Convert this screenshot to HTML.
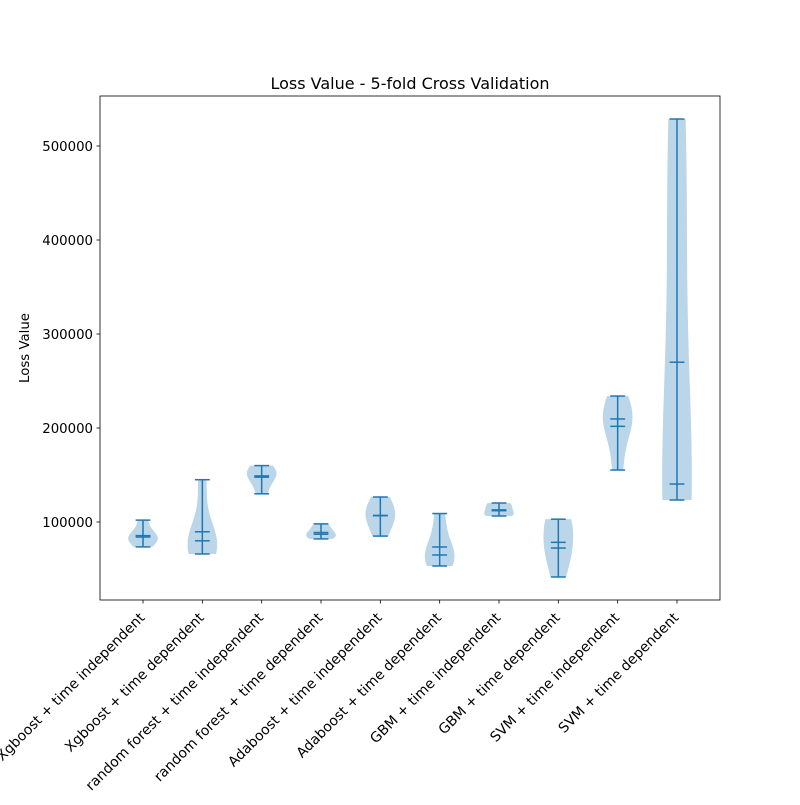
<!DOCTYPE html>
<html><head><meta charset="utf-8"><style>
body{margin:0;background:#fff;}
svg text{font-family:"DejaVu Sans","Liberation Sans",sans-serif;fill:#000;}
</style></head><body>
<svg id="chart" width="800" height="800" viewBox="0 0 800 800" xmlns="http://www.w3.org/2000/svg">
<rect width="800" height="800" fill="#fff"/>
<g id="plot"></g>
</svg>
<script>
const categories = ["Xgboost + time independent","Xgboost + time dependent","random forest + time independent","random forest + time dependent","Adaboost + time independent","Adaboost + time dependent","GBM + time independent","GBM + time dependent","SVM + time independent","SVM + time dependent"];
const fold1 = [73500, 66000, 130000, 82000, 85000, 53200, 106400, 41500, 155300, 123400];
const fold2 = [82000, 70000, 144700, 85000, 100000, 60000, 108000, 72000, 195000, 130000];
const fold3 = [84000, 80000, 149000, 87000, 107000, 64900, 112000, 72300, 209600, 140400];
const fold4 = [86000, 87000, 155000, 92000, 115000, 80000, 118000, 103000, 215000, 427500];
const fold5 = [102000, 145000, 160000, 98000, 126600, 109000, 120200, 103000, 234000, 528700];
const yTicks = [100000, 200000, 300000, 400000, 500000];

const NS = "http://www.w3.org/2000/svg";
const L = 100, R = 720, T = 96, B = 600;
const xMin = 0.275, xMax = 10.725;
function xs(p){ return L + (p - xMin) / (xMax - xMin) * (R - L); }
function ys(v){ return 522 - (v - 100000) * 376 / 400000; }
const g = document.getElementById('plot');
function el(tag, attrs, parent){ const e = document.createElementNS(NS, tag); for (const k in attrs) e.setAttribute(k, attrs[k]); (parent||g).appendChild(e); return e; }

categories.forEach((cat, i) => {
  const d = [fold1[i], fold2[i], fold3[i], fold4[i], fold5[i]];
  const n = d.length;
  const mean = d.reduce((a,b)=>a+b,0)/n;
  const sorted = d.slice().sort((a,b)=>a-b);
  const med = sorted[2];
  const sd = Math.sqrt(d.reduce((a,b)=>a+(b-mean)*(b-mean),0)/(n-1));
  const bw = Math.pow(n, -0.2) * sd;
  const mn = sorted[0], mx = sorted[n-1];
  const pts = [];
  let maxD = 0;
  for (let k = 0; k < 100; k++) {
    const v = mn + (mx - mn) * k / 99;
    let s = 0;
    d.forEach(x => { s += Math.exp(-0.5 * ((v - x) / bw) ** 2); });
    pts.push([v, s]); if (s > maxD) maxD = s;
  }
  const pos = i + 1;
  const cx = xs(pos);
  const scale = (xs(pos + 0.25) - cx) / maxD;
  let path = "M" + pts.map(p => (cx + p[1]*scale).toFixed(2) + "," + ys(p[0]).toFixed(2)).join(" L");
  path += " L" + pts.slice().reverse().map(p => (cx - p[1]*scale).toFixed(2) + "," + ys(p[0]).toFixed(2)).join(" L") + " Z";
  const grp = el('g', {});
  
  
  el('path', {d: path, fill: '#1f77b4', 'fill-opacity': 0.3, stroke: 'none'}, grp);
  const cw = xs(pos + 0.125) - cx;
  el('line', {x1: cx, x2: cx, y1: ys(mn), y2: ys(mx), stroke: '#1f77b4', 'stroke-width': 1.5}, grp);
  [mn, mx, mean, med].forEach(v => {
    el('line', {x1: cx - cw, x2: cx + cw, y1: ys(v), y2: ys(v), stroke: '#1f77b4', 'stroke-width': 1.5}, grp);
  });
  el('line', {x1: cx, x2: cx, y1: B, y2: B + 3.5, stroke: '#000', 'stroke-width': 0.8});
  const ax = cx - 1, ay = B + 15;
  const t = el('text', {x: ax, y: ay, 'font-size': 14, 'text-anchor': 'end', transform: `rotate(-45 ${ax} ${ay})`, dy: '0.35em'});
  
  
  t.textContent = cat;
});

yTicks.forEach(v => {
  const y = ys(v);
  el('line', {x1: L - 3.5, x2: L, y1: y, y2: y, stroke: '#000', 'stroke-width': 0.8});
  const t = el('text', {x: L - 7, y: y + 5, 'font-size': 13.3, 'text-anchor': 'end'});
  
  
  t.textContent = v;
});

const frame = el('rect', {x: L, y: T, width: R - L, height: B - T, fill: 'none', stroke: '#000', 'stroke-width': 0.8});


const title = el('text', {x: (L + R) / 2, y: 89, 'font-size': 16, 'text-anchor': 'middle'});


title.textContent = 'Loss Value - 5-fold Cross Validation';
const yl = el('text', {x: 29, y: 348, 'font-size': 13.3, 'text-anchor': 'middle', transform: 'rotate(-90 29 348)'});


yl.textContent = 'Loss Value';
</script>
</body></html>
